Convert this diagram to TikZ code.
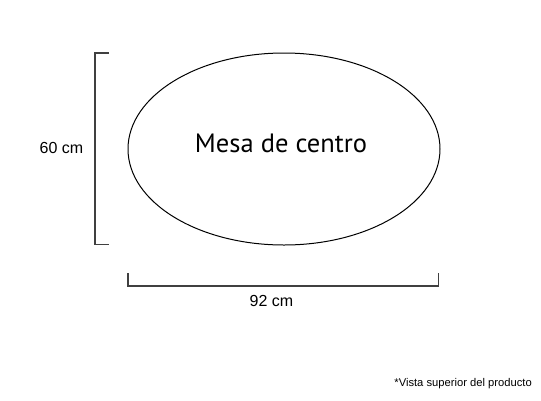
\documentclass[tikz,border=0pt]{standalone}
\usepackage{fontspec}
\usetikzlibrary{shapes.geometric}
\setmainfont{Liberation Sans}
\newfontfamily\titlefont{PT Sans}
\begin{document}
\begin{tikzpicture}[x=1pt,y=-1pt,
  dimline/.style={draw=black!75,line width=1.3pt},
  lab/.style={font=\fontsize{16}{18}\selectfont,anchor=base,inner sep=0},
]
\useasboundingbox[fill=white] (0,0) rectangle (541,400);
\node[draw=black,line width=1pt,ellipse,minimum width=312pt,minimum height=192pt,inner sep=0] (table) at (284,149) {};
\node[font=\titlefont\fontsize{26.5}{28}\selectfont,anchor=base,inner sep=0] (name) at (281,152) {Mesa de centro};
\coordinate (vt) at (109,53);
\coordinate (vb) at (109,244.5);
\draw[dimline] (vt) -- (95,53) -- (95,244.5) -- (vb);
\coordinate (hl) at (128,273);
\coordinate (hr) at (438.5,273);
\draw[dimline] (hl) -- (128,286) -- (438.5,286) -- (hr);
\node[lab] (h) at (61.5,153) {60 cm};
\node[lab] (w) at (271.5,306) {92 cm};
\node[font=\fontsize{11.2}{13}\selectfont,anchor=base east,inner sep=0] (note) at (532,386) {*Vista superior del producto};
\end{tikzpicture}
\end{document}
